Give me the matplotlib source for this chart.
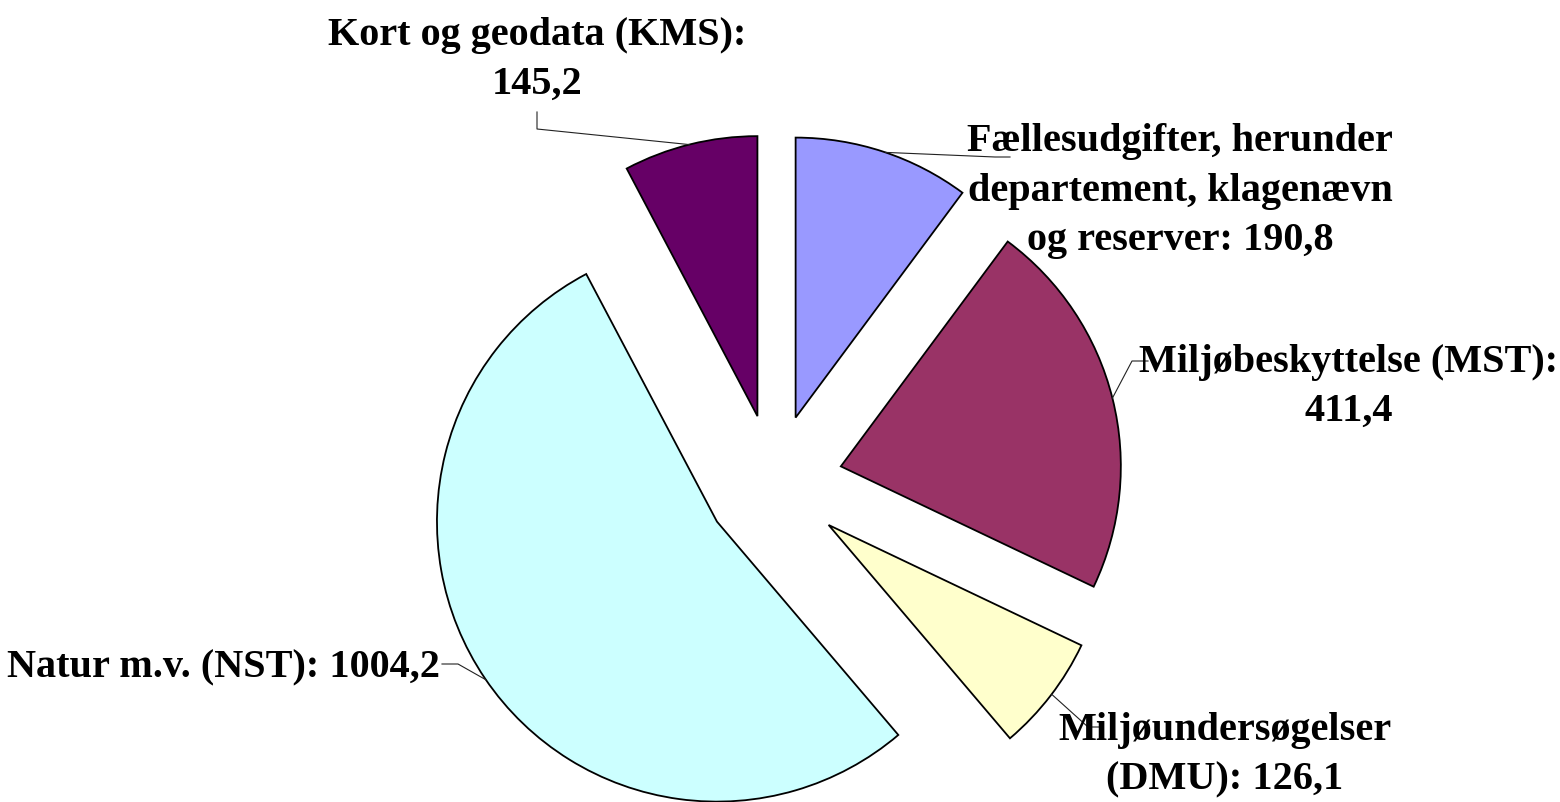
import numpy as np
from matplotlib import pyplot as plt

plt.rcParams['font.family'] = ['Liberation Serif', 'DejaVu Serif']

# budget items, clockwise from 12 o'clock
labels = ['Fællesudgifter, herunder\ndepartement, klagenævn\nog reserver: 190,8',
          'Miljøbeskyttelse (MST):\n411,4',
          'Miljøundersøgelser\n(DMU): 126,1',
          'Natur m.v. (NST): 1004,2',
          'Kort og geodata (KMS):\n145,2']
values = [190.8, 411.4, 126.1, 1004.2, 145.2]
colors = ['#9999FF', '#993366', '#FFFFCC', '#CCFFFF', '#660066']

W, H = 1560, 803
cx, cy, R = 774, 484, 280   # pie centre / radius in pixels


def px2data(px, py):
    return (px - cx) / R, (cy - py) / R


fig = plt.figure(figsize=(W / 100, H / 100), dpi=100)
ax = fig.add_axes([0, 0, 1, 1])

wedges, _ = ax.pie(values, colors=colors, startangle=90, counterclock=False,
                   explode=[0.246] * len(values),
                   wedgeprops=dict(edgecolor='black', linewidth=1.3))

ax.set_aspect('auto')
ax.set_xlim(-cx / R, (W - cx) / R)
ax.set_ylim((cy - H) / R, cy / R)
ax.axis('off')

# label placement (pixels): text centre, alignment, leader angle on arc, elbow, end
layout = [
    dict(pos=(1180, 191), ha='center', ang=71.3, elbow=(995, 158), end=(1010, 158)),
    dict(pos=(1349, 387), ha='center', ang=14.1, elbow=(1132, 362), end=(1148, 362)),
    dict(pos=(1225, 755), ha='center', ang=-37.2, elbow=(1088, 728), end=(1103, 728)),
    dict(pos=(440, 668), ha='right', ang=214.4, elbow=(458, 665), end=(442, 665)),
    dict(pos=(537, 60), ha='center', ang=104.1, elbow=(537, 130), end=(537, 113)),
]

for w, lab, lo in zip(wedges, labels, layout):
    a = np.deg2rad(lo['ang'])
    x0 = w.center[0] + w.r * np.cos(a)
    y0 = w.center[1] + w.r * np.sin(a)
    ex, ey = px2data(*lo['elbow'])
    nx, ny = px2data(*lo['end'])
    ax.plot([x0, ex, nx], [y0, ey, ny], color='#222222', lw=0.8, zorder=3)
    tx, ty = px2data(*lo['pos'])
    ax.text(tx, ty, lab, ha=lo['ha'], va='center', multialignment='center',
            fontsize=29, fontweight='bold', linespacing=1.45, color='black')

plt.savefig('out.png', dpi=100)
